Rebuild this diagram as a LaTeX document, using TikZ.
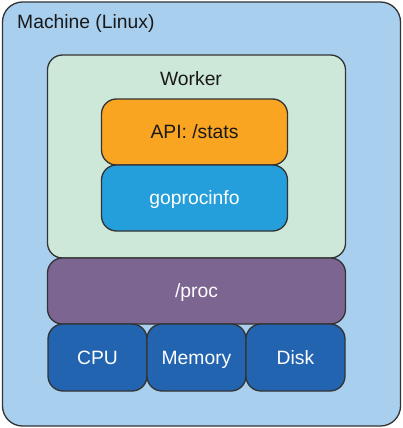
\documentclass[tikz,border=0pt]{standalone}
\usepackage{fontspec}
\setmainfont{Liberation Sans}
\usepackage{tikz}
\usetikzlibrary{positioning}
\definecolor{machinebg}{HTML}{A9CFEE}
\definecolor{workerbg}{HTML}{CDE8D8}
\definecolor{apibg}{HTML}{F9A522}
\definecolor{procinfobg}{HTML}{259FDB}
\definecolor{procbg}{HTML}{7C6591}
\definecolor{hwbg}{HTML}{2264B0}
\definecolor{edge}{HTML}{333333}

\begin{document}
\begin{tikzpicture}[
    x=1pt, y=-1pt,
    node distance=0pt,
    box/.style={rectangle, draw=edge, line width=1.3pt, rounded corners=15pt,
        outer sep=0pt, inner sep=0pt, text height=13.6pt, text depth=0pt,
        font=\fontsize{19.3}{23}\selectfont},
    darktxt/.style={text=black!90},
    lighttxt/.style={text=white},
    hwbox/.style={box, fill=hwbg, lighttxt, minimum width=99pt, minimum height=67pt}
]
\useasboundingbox (0,0) rectangle (403,428);

% outer machine and worker
\node[box, fill=machinebg, rounded corners=20pt, minimum width=398pt, minimum height=424pt] (machine) at (201.5,214) {};
\node[box, fill=workerbg, minimum width=298pt, minimum height=203pt] (worker) at (196.5,156.5) {};

\node[darktxt, anchor=west, inner sep=0pt, font=\fontsize{19.3}{23}\selectfont] (machinelbl) at (17,24) {Machine (Linux)};
\node[darktxt, inner sep=0pt, font=\fontsize{19.3}{23}\selectfont] (workerlbl) at (191,79) {Worker};

% worker stack
\node[box, fill=apibg, darktxt, minimum width=186pt, minimum height=66pt] (api) at (194.5,132) {API: /stats};
\node[box, fill=procinfobg, lighttxt, minimum width=186pt, minimum height=66pt, below=of api] (procinfo) {goprocinfo};

% /proc and hardware
\node[box, fill=procbg, lighttxt, minimum width=298pt, minimum height=66pt, below=of worker] (proc) {/proc};
\node[hwbox] (cpu) at (97.5,357.5) {CPU};
\node[hwbox, right=of cpu] (mem) {Memory};
\node[hwbox, right=of mem] (disk) {Disk};
\end{tikzpicture}
\end{document}
